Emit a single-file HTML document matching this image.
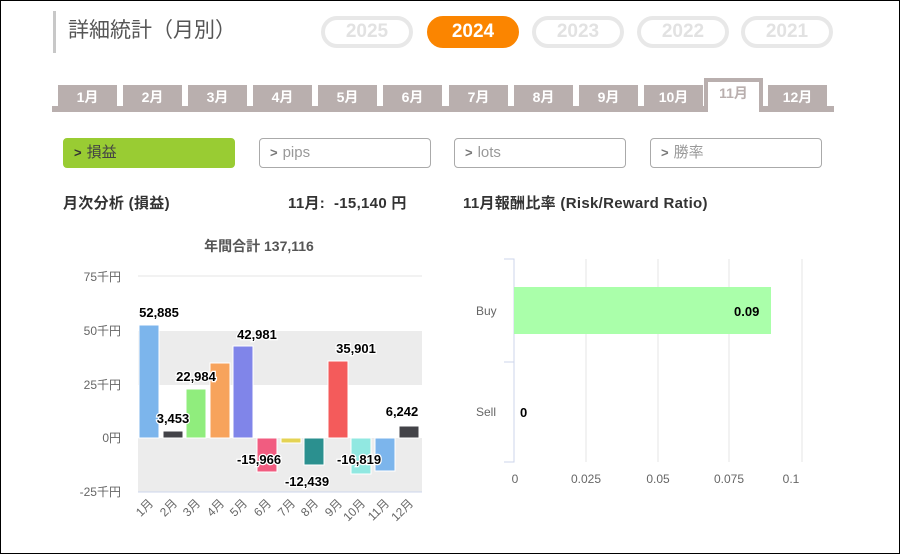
<!DOCTYPE html>
<html><head><meta charset="utf-8"><style>
*{margin:0;padding:0;box-sizing:border-box}
body{width:900px;height:554px;background:#fff;position:relative;overflow:hidden;font-family:"Liberation Sans","Noto Sans CJK JP",sans-serif;border:1px solid #000}
.a{position:absolute}
.title{left:52px;top:10px;height:42px;border-left:3px solid #c8c8c8;padding-left:12px;font-size:21px;color:#555;line-height:40px}
.pill{top:15px;width:92px;height:32px;border:4px solid #e8e8e8;border-radius:16px;color:#e2e2e2;font-weight:bold;font-size:19px;text-align:center;line-height:24px}
.pill.on{background:#fb8500;border-color:#fb8500;color:#fff}
.strip{left:51px;top:105px;width:782px;height:6px;background:#b9afae}
.tab{top:84px;width:59px;height:22px;background:#b9afae;color:#fff;font-weight:bold;font-size:14px;text-align:center;line-height:24px}
.tab.sel{top:77px;height:34px;background:#fff;border:4px solid #b9afae;border-bottom:none;color:#b9afae;line-height:22px;width:59px}
.btn{top:137px;width:172px;height:30px;border:1.5px solid #aaa;border-radius:4px;font-size:15px;color:#999;line-height:27px;padding-left:10px}
.btn.on{background:#99cc33;border-color:#99cc33;color:#444}
.btn b{font-size:13px;margin-right:5px;color:#777}
.btn.on b{color:#333}
.h{font-size:15px;font-weight:bold;color:#333;letter-spacing:0.3px}
</style></head><body>
<div class="a title">詳細統計（月別）</div>
<div class="a pill" style="left:320px">2025</div>
<div class="a pill on" style="left:426px">2024</div>
<div class="a pill" style="left:531px">2023</div>
<div class="a pill" style="left:636px">2022</div>
<div class="a pill" style="left:740px">2021</div>
<div class="a strip"></div>
<div class="a tab" style="left:57px">1月</div>
<div class="a tab" style="left:122px">2月</div>
<div class="a tab" style="left:187px">3月</div>
<div class="a tab" style="left:252px">4月</div>
<div class="a tab" style="left:317px">5月</div>
<div class="a tab" style="left:382px">6月</div>
<div class="a tab" style="left:448px">7月</div>
<div class="a tab" style="left:513px">8月</div>
<div class="a tab" style="left:578px">9月</div>
<div class="a tab" style="left:643px">10月</div>
<div class="a tab sel" style="left:703px">11月</div>
<div class="a tab" style="left:767px">12月</div>
<div class="a btn on" style="left:62px"><b>&gt;</b>損益</div>
<div class="a btn" style="left:258px"><b>&gt;</b>pips</div>
<div class="a btn" style="left:453px"><b>&gt;</b>lots</div>
<div class="a btn" style="left:649px"><b>&gt;</b>勝率</div>
<div class="a h" style="left:62px;top:191px">月次分析 (損益)</div>
<div class="a h" style="left:287px;top:191px">11月:&nbsp; -15,140 円</div>
<div class="a h" style="left:462px;top:191px">11月報酬比率 (Risk/Reward Ratio)</div>
<svg class="a" style="left:0;top:0" width="900" height="554" font-family="Liberation Sans, Noto Sans CJK JP, sans-serif">
<text x="258" y="250" font-size="14" font-weight="bold" fill="#555" text-anchor="middle">年間合計 137,116</text>
<rect x="137" y="330" width="284" height="54" fill="#ececec"/>
<rect x="137" y="437" width="284" height="54" fill="#ececec"/>
<line x1="137" y1="275" x2="421" y2="275" stroke="#e6e6e6"/>
<line x1="137" y1="491" x2="421" y2="491" stroke="#ccd6eb"/>
<g font-size="12" fill="#666" text-anchor="end">
<text x="120" y="280">75千円</text><text x="120" y="334">50千円</text><text x="120" y="388">25千円</text><text x="120" y="441">0円</text><text x="120" y="495">-25千円</text></g>
<g stroke="#fff" stroke-width="1">
<rect x="138" y="324" width="20" height="113" fill="#7cb5ec"/>
<rect x="162" y="430" width="20" height="7" fill="#434348"/>
<rect x="185" y="388" width="20" height="49" fill="#90ed7d"/>
<rect x="209" y="362" width="20" height="75" fill="#f7a35c"/>
<rect x="232" y="345" width="20" height="92" fill="#8085e9"/>
<rect x="256" y="437" width="20" height="34" fill="#f15c80"/>
<rect x="280" y="437" width="20" height="5" fill="#e4d354"/>
<rect x="303" y="437" width="20" height="27" fill="#2b908f"/>
<rect x="327" y="360" width="20" height="77" fill="#f45b5b"/>
<rect x="350" y="437" width="20" height="36" fill="#91e8e1"/>
<rect x="374" y="437" width="20" height="33" fill="#7cb5ec"/>
<rect x="398" y="425" width="20" height="12" fill="#434348"/>
</g>
<g font-size="13" font-weight="bold" fill="#000" text-anchor="middle" stroke="#fff" stroke-width="2.5" paint-order="stroke">
<text x="158" y="316">52,885</text><text x="172" y="422">3,453</text><text x="195" y="380">22,984</text><text x="256" y="338">42,981</text>
<text x="258" y="463">-15,966</text><text x="306" y="485">-12,439</text><text x="355" y="352">35,901</text><text x="358" y="463">-16,819</text><text x="401" y="415">6,242</text></g>
<g font-size="12" fill="#666" text-anchor="end">
<text transform="translate(153,503) rotate(-45)">1月</text><text transform="translate(177,503) rotate(-45)">2月</text><text transform="translate(200,503) rotate(-45)">3月</text><text transform="translate(224,503) rotate(-45)">4月</text><text transform="translate(247,503) rotate(-45)">5月</text><text transform="translate(271,503) rotate(-45)">6月</text><text transform="translate(295,503) rotate(-45)">7月</text><text transform="translate(318,503) rotate(-45)">8月</text><text transform="translate(342,503) rotate(-45)">9月</text><text transform="translate(365,503) rotate(-45)">10月</text><text transform="translate(389,503) rotate(-45)">11月</text><text transform="translate(413,503) rotate(-45)">12月</text></g>
<g stroke="#e6e6e6"><line x1="585" y1="258" x2="585" y2="461"/><line x1="657" y1="258" x2="657" y2="461"/><line x1="728" y1="258" x2="728" y2="461"/><line x1="801" y1="258" x2="801" y2="461"/></g>
<path d="M503 258H513V461H503M503 361H513" fill="none" stroke="#ccd6eb"/>
<rect x="513" y="286" width="257" height="47" fill="#aaffaa"/>
<g font-size="13" font-weight="bold" fill="#000"><text x="733" y="315">0.09</text><text x="519" y="416">0</text></g>
<g font-size="12" fill="#666"><text x="475" y="314">Buy</text><text x="475" y="415">Sell</text></g>
<g font-size="12" fill="#666" text-anchor="middle"><text x="514" y="482">0</text><text x="585" y="482">0.025</text><text x="657" y="482">0.05</text><text x="728" y="482">0.075</text><text x="790" y="482">0.1</text></g>
</svg>
</body></html>
